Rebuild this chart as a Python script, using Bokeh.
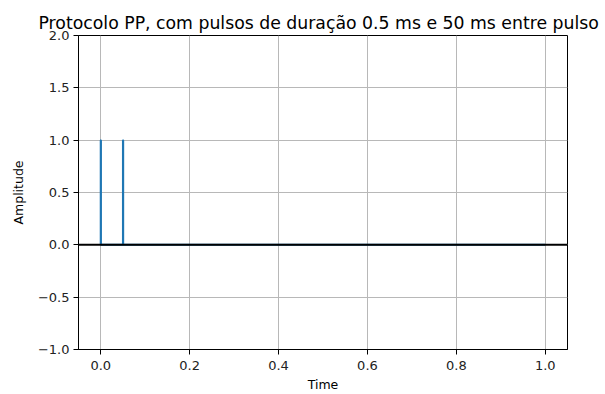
from bokeh.plotting import figure
from bokeh.models import Range1d, FixedTicker, Span
from bokeh.embed import file_html
from bokeh.resources import INLINE

# Paired-pulse stimulus: 0.5 ms pulses, 50 ms apart, over 1 s
time = [0.0, 0.0, 0.0005, 0.0005, 0.05, 0.05, 0.0505, 0.0505, 1.0]
amplitude = [0.0, 1.0, 1.0, 0.0, 0.0, 1.0, 1.0, 0.0, 0.0]

x_ticks = [0.0, 0.2, 0.4, 0.6, 0.8, 1.0]
x_tick_labels = ["0.0", "0.2", "0.4", "0.6", "0.8", "1.0"]
y_ticks = [-1.0, -0.5, 0.0, 0.5, 1.0, 1.5, 2.0]
y_tick_labels = ["\u22121.0", "\u22120.5", "0.0", "0.5", "1.0", "1.5", "2.0"]

FONT = "DejaVu Sans"

p = figure(width=605, height=394, output_backend="svg", toolbar_location=None,
           title="Protocolo PP, com pulsos de duração 0.5 ms e 50 ms entre pulso",
           x_range=Range1d(-0.05, 1.05), y_range=Range1d(-1.0, 2.0),
           min_border_left=78, min_border_right=38, min_border_top=35,
           min_border_bottom=43)

p.title.text_font = FONT
p.title.text_font_size = "17.3px"
p.title.text_font_style = "normal"
p.title.align = "left"
p.title.offset = -40
p.title.standoff = 6
p.title.text_color = "black"

p.outline_line_color = "black"
p.outline_line_width = 1
p.background_fill_color = "white"
p.border_fill_color = "white"

for ax in (p.xaxis, p.yaxis):
    ax.major_label_text_font = FONT
    ax.major_label_text_font_size = "13px"
    ax.major_label_text_color = "#222222"
    ax.axis_label_text_font = FONT
    ax.axis_label_text_font_size = "12.5px"
    ax.axis_label_text_font_style = "normal"
    ax.axis_label_text_color = "black"
    ax.axis_line_color = "black"
    ax.major_tick_line_color = "black"
    ax.major_tick_out = 5
    ax.major_tick_in = 0
    ax.minor_tick_line_color = None

p.xaxis.ticker = FixedTicker(ticks=x_ticks)
p.yaxis.ticker = FixedTicker(ticks=y_ticks)
p.xaxis.major_label_overrides = dict(zip(x_ticks, x_tick_labels))
p.yaxis.major_label_overrides = dict(zip(y_ticks, y_tick_labels))
p.xaxis.axis_label = "Time"
p.yaxis.axis_label = "Amplitude"
p.xaxis.axis_label_standoff = 4
p.yaxis.axis_label_standoff = 9
p.xaxis.major_label_standoff = 6
p.yaxis.major_label_standoff = 4

p.xgrid.grid_line_color = "#b8b8b8"
p.ygrid.grid_line_color = "#b8b8b8"
p.xgrid.grid_line_width = 1
p.ygrid.grid_line_width = 1

p.line(time, amplitude, line_color="#1f77b4", line_width=2)

baseline = Span(location=0.0, dimension="width", line_color="black", line_width=2)
p.add_layout(baseline)

open("out.html", "w").write(file_html(p, INLINE))
